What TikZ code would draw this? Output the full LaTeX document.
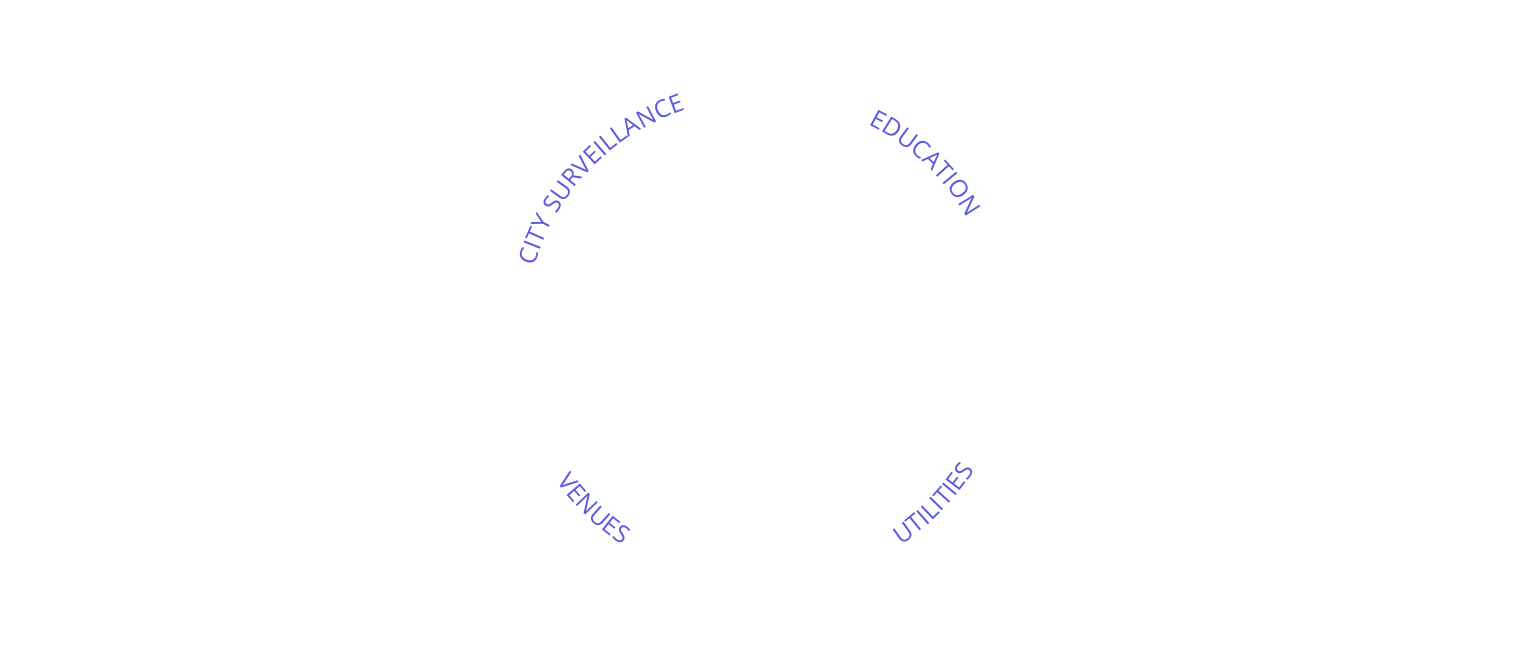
\documentclass[tikz,border=0pt]{standalone}
\usepackage{fontspec}
\setmainfont{Open Sans}
\usetikzlibrary{decorations.text}
\definecolor{lbl}{HTML}{5B5BE0}
\tikzset{arclabel/.style={decorate,decoration={text along path,text align=center,text={#1}}}}
\begin{document}
\begin{tikzpicture}[x=1pt,y=1pt]
\useasboundingbox (0,0) rectangle (1532,660);
\coordinate (c) at (762,325);
\path[arclabel={|\fontsize{24.5}{24}\selectfont\color{lbl}|CITY SURVEILLANCE}] (c) ++(176:238) arc[start angle=176,end angle=96,radius=238];
\path[arclabel={|\fontsize{24.5}{24}\selectfont\color{lbl}|EDUCATION}] (c) ++(87:236) arc[start angle=87,end angle=6,radius=236];
\path[arclabel={|\fontsize{24.5}{24}\selectfont\color{lbl}|VENUES}] (c) ++(195:252) arc[start angle=195,end angle=257,radius=252];
\path[arclabel={|\fontsize{24.5}{24}\selectfont\color{lbl}|UTILITIES}] (c) ++(280:252) arc[start angle=280,end angle=351,radius=252];
\end{tikzpicture}
\end{document}
